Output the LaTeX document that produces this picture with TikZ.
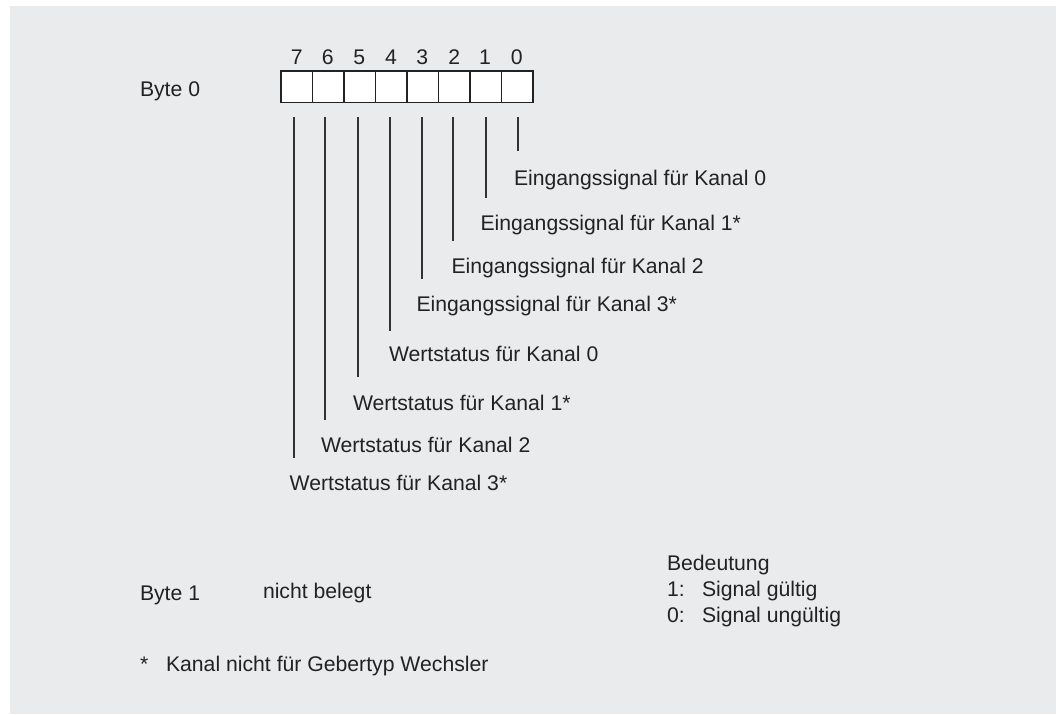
\documentclass[tikz,border=0pt]{standalone}
\usepackage{fontspec}
\setmainfont{Liberation Sans}
\definecolor{bg}{RGB}{234,235,237}
\definecolor{ink}{RGB}{34,34,34}
\definecolor{leadc}{RGB}{50,50,50}
\begin{document}
\begin{tikzpicture}[x=1pt,y=-1pt,
  txt/.style={anchor=base west, inner sep=0pt, outer sep=0pt, text=ink, font=\fontsize{21.2}{25}\selectfont},
  digit/.style={anchor=base, inner sep=0pt, text=ink, font=\fontsize{21.2}{25}\selectfont},
  cell/.style={draw=ink, line width=1.5pt, fill=white, minimum width=31.5pt, minimum height=31.5pt, inner sep=0pt, outer sep=0pt},
  leadline/.style={draw=leadc, line width=1.3pt}]
\useasboundingbox (0,0) rectangle (1056,714);
\fill[bg] (10,6) rectangle (1056,714);

% header
\node[txt] (byte0) at (140,96.7) {Byte 0};
\foreach \i/\dx in {7/296.7,6/327.7,5/359.3,4/391,3/422.3,2/454.3,1/485,0/516.7}{
  \node[digit] (d\i) at (\dx,65) {\i};
}
\foreach \i in {0,...,7}{
  \node[cell] (c\i) at ({533-31.5*(\i+0.5)},86.75) {};
}

% lead line ends
\foreach \i/\lx/\ly in {0/518/151,1/486/198,2/453/241,3/422/279,4/390/331,5/358/377,6/325/420,7/294/458}{
  \coordinate (t\i) at (\lx,117);
  \coordinate (b\i) at (\lx,\ly);
  \draw[leadline] (t\i) -- (b\i);
}

% labels
\node[txt] (l0) at (514,185.5) {Eingangssignal für Kanal 0};
\node[txt] (l1) at (480.5,230) {Eingangssignal für Kanal 1*};
\node[txt] (l2) at (451.5,273.5) {Eingangssignal für Kanal 2};
\node[txt] (l3) at (416.5,311.5) {Eingangssignal für Kanal 3*};
\node[txt] (l4) at (389,361.5) {Wertstatus für Kanal 0};
\node[txt] (l5) at (353,410) {Wertstatus für Kanal 1*};
\node[txt] (l6) at (321,452.7) {Wertstatus für Kanal 2};
\node[txt] (l7) at (289.7,490.7) {Wertstatus für Kanal 3*};

% bottom part
\node[txt] (byte1) at (140,600.7) {Byte 1};
\node[txt] (nb) at (263,598) {nicht belegt};
\node[txt] (bed) at (667,570.7) {Bedeutung};
\node[txt] (m1) at (667,596.7) {1:};
\node[txt] (s1) at (702,596.7) {Signal gültig};
\node[txt] (m0) at (667,622.7) {0:};
\node[txt] (s0) at (702,622.7) {Signal ungültig};
\node[txt] (star) at (140,671.7) {*};
\node[txt] (foot) at (166,671.7) {Kanal nicht für Gebertyp Wechsler};
\end{tikzpicture}
\end{document}
